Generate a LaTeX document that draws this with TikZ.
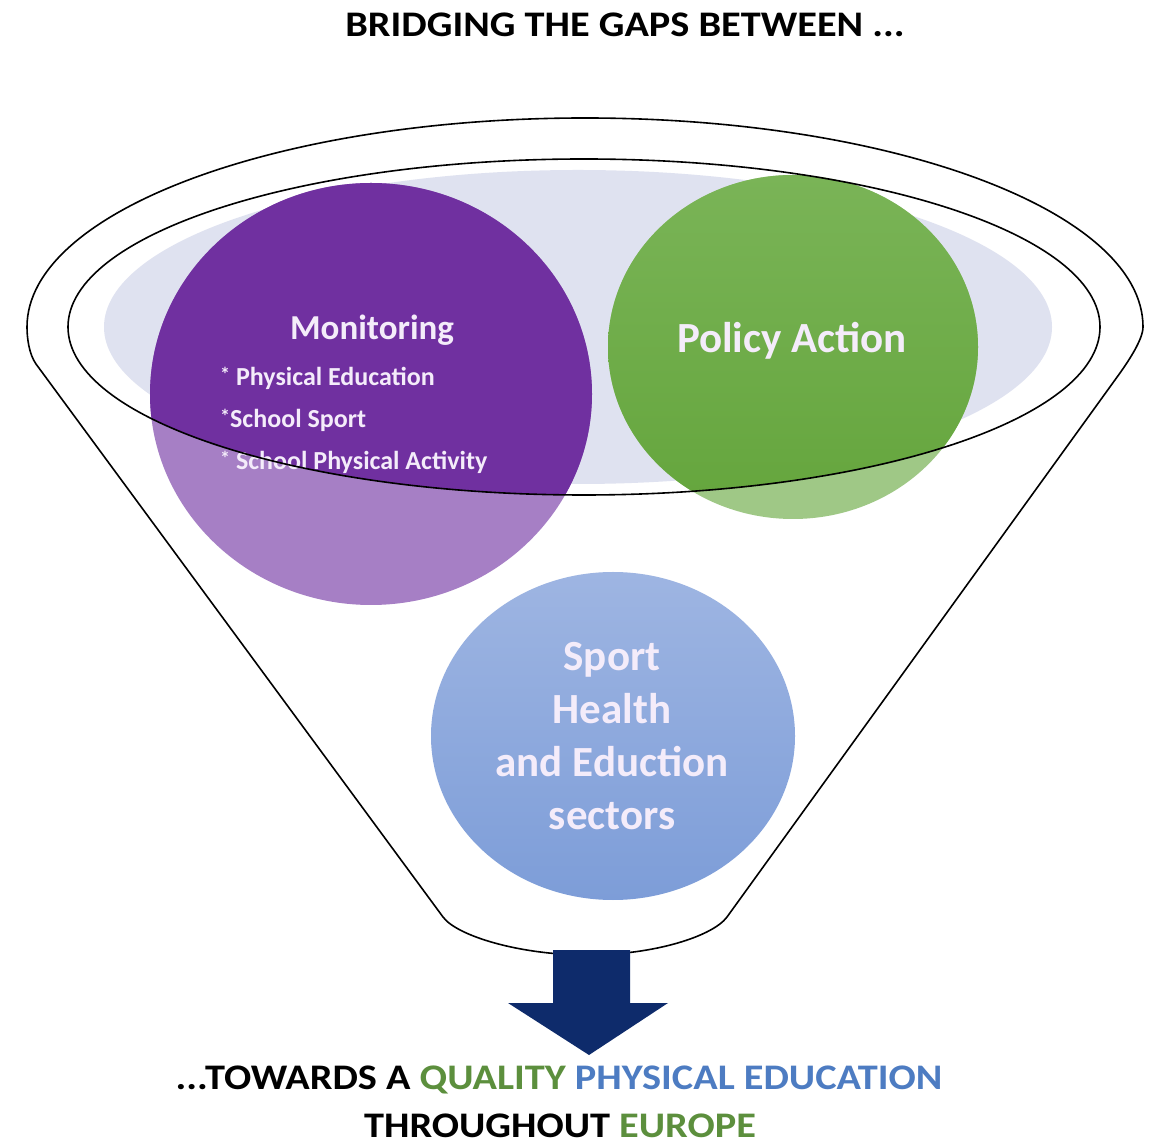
\documentclass[tikz,border=0pt]{standalone}
\usepackage{fontspec}
\setmainfont{Carlito}
\definecolor{pdark}{HTML}{7030A0}
\definecolor{plight}{HTML}{A67FC5}
\definecolor{gdarkT}{HTML}{7AB457}
\definecolor{gdarkB}{HTML}{64A53C}
\definecolor{glight}{HTML}{9FC886}
\definecolor{btop}{HTML}{9EB5E2}
\definecolor{bbot}{HTML}{7D9DD8}
\definecolor{lav}{HTML}{DFE2F0}
\definecolor{navy}{HTML}{0E2B6B}
\definecolor{qgreen}{HTML}{5C8F3D}
\definecolor{qblue}{HTML}{4D7CC2}
\definecolor{ctext}{HTML}{F4ECFA}
\newcommand{\widetxt}[1]{\scalebox{1.12}[1]{#1}}
\newcommand{\bulstar}{\raisebox{0.3ex}{\fontsize{20}{22}\selectfont*}}
\tikzset{
  outl/.style={draw=black, line width=1.6pt},
  headtext/.style={font=\fontsize{36}{42}\selectfont\bfseries, text=black, inner sep=0pt},
  montitle/.style={font=\fontsize{35}{42}\selectfont\bfseries, text=ctext, inner sep=0pt},
  monitem/.style={font=\fontsize{26}{31}\selectfont\bfseries, text=ctext, inner sep=0pt, anchor=west},
  poltext/.style={font=\fontsize{43}{51}\selectfont\bfseries, text=ctext, inner sep=0pt},
  sectext/.style={font=\fontsize{43}{53}\selectfont\bfseries, text=ctext, inner sep=0pt, align=center},
}
\begin{document}
\begin{tikzpicture}[x=1pt,y=1pt]
\useasboundingbox (0,0) rectangle (1153,1146);
\fill[white] (0,0) rectangle (1153,1146);

\node[headtext] (title) at (625,1121) {\widetxt{BRIDGING THE GAPS BETWEEN ...}};

% light inner disc of the funnel mouth
\fill[lav] (578,819) ellipse [x radius=474pt, y radius=157pt];

% circles (lighter outside the funnel mouth)
\fill[plight] (371,752) ellipse [x radius=221pt, y radius=211pt];
\fill[glight] (793,799) ellipse [x radius=185pt, y radius=172pt];
\begin{scope}
  \clip (584,819) ellipse [x radius=516pt, y radius=168pt];
  \fill[pdark] (371,752) ellipse [x radius=221pt, y radius=211pt];
  \shade[top color=gdarkT, bottom color=gdarkB] (793,799) ellipse [x radius=185pt, y radius=172pt];
\end{scope}
\shade[top color=btop, bottom color=bbot] (613,410) ellipse [x radius=182pt, y radius=164pt];

% texts in circles
\node[montitle] (mon) at (372,816) {Monitoring};
\node[monitem] (m1) at (220,768) {\bulstar\ Physical Education};
\node[monitem] (m2) at (220,726) {\bulstar School Sport};
\node[monitem] (m3) at (220,684) {\bulstar\ School Physical Activity};
\node[poltext] (pol) at (792,805) {Policy Action};
\node[sectext] (sec) at (612,410) {Sport\\Health\\and Eduction\\sectors};

% funnel outlines
\draw[outl] (584,819) ellipse [x radius=516pt, y radius=168pt];
\draw[outl] (1143,819) arc[start angle=0, end angle=180, x radius=558pt, y radius=209pt]
  .. controls (27,808) and (29,792) .. (36,782)
  -- (443,229)
  .. controls (457,210) and (520,191) .. (587,191)
  .. controls (655,191) and (713,210) .. (727,229)
  -- (1120,773)
  .. controls (1127,783) and (1143,806) .. (1143,819) -- cycle;

% arrow
\fill[navy] (553,196) -- (630,196) -- (630,143) -- (668,143) -- (589,91) -- (508,143) -- (553,143) -- cycle;

% bottom text
\node[headtext] (bot1) at (559,66) {\widetxt{...TOWARDS A \textcolor{qgreen}{QUALITY} \textcolor{qblue}{PHYSICAL EDUCATION}}};
\node[headtext] (bot2) at (560,20) {\widetxt{THROUGHOUT \textcolor{qgreen}{EUROPE}}};
\end{tikzpicture}
\end{document}
